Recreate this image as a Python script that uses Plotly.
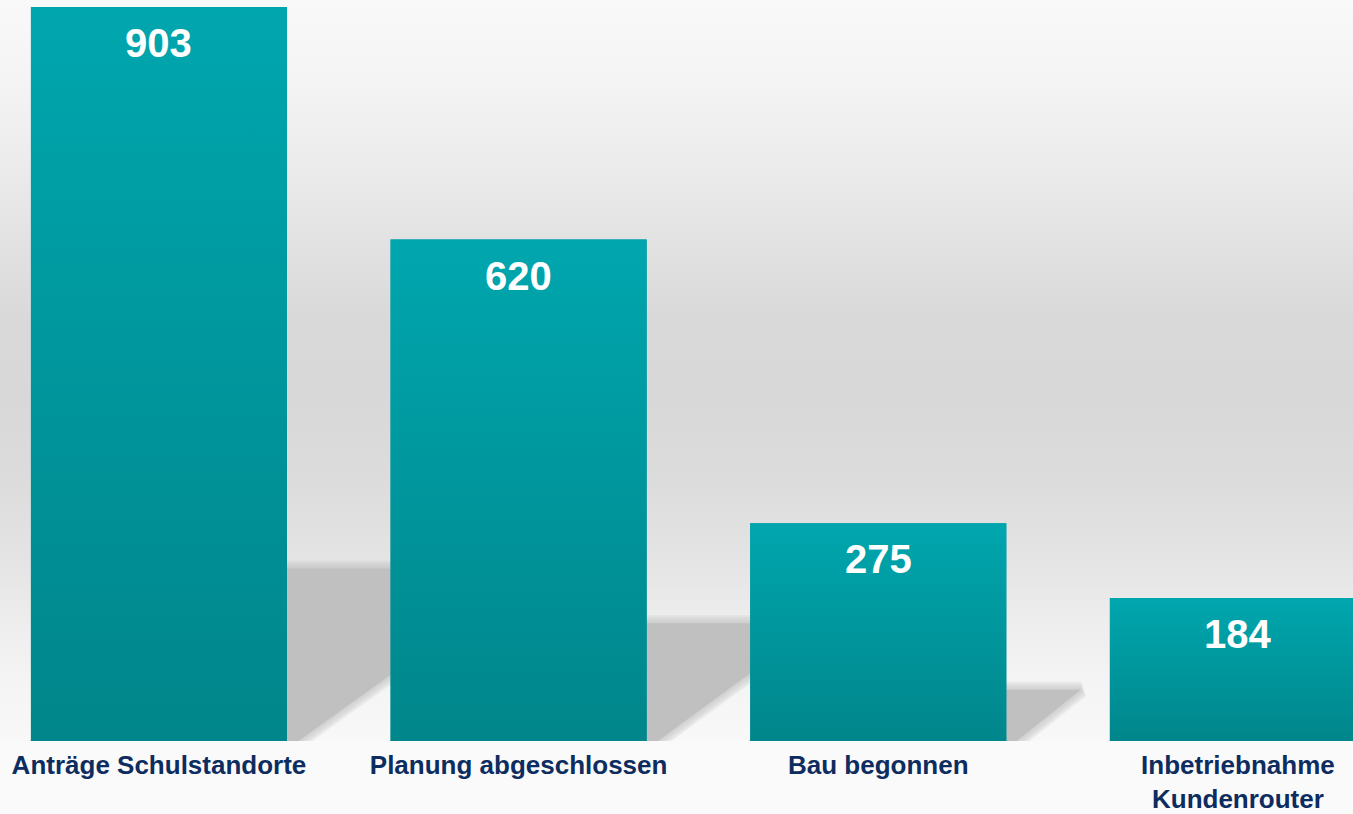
import plotly.graph_objects as go

# ---- data ----
categories = ["Anträge Schulstandorte", "Planung abgeschlossen", "Bau begonnen", "Inbetriebnahme Kundenrouter"]
tick_labels = ["Anträge Schulstandorte", "Planung abgeschlossen", "Bau begonnen", "Inbetriebnahme<br>Kundenrouter"]
values = [903, 620, 275, 184]

# ---- style ----
FONT = "Liberation Sans, Arial, sans-serif"
NAVY = "#0D2C5F"
BAR_W = 0.712
X_RANGE = [-0.442, 3.32]
Y_RANGE = [10, 911.5]
SHADOW_DEPTH = 0.235      # shadow height as share of visible bar height
SHADOW_SHEAR = 0.000784   # horizontal shear (category units per value unit)

# background vertical gradient (pos 0 = baseline, 1 = top)
bg_stops = [(0.0, 248), (0.082, 244), (0.163, 237), (0.244, 228), (0.352, 220),
            (0.46, 216), (0.568, 217), (0.676, 226), (0.784, 236), (0.892, 244), (1.0, 249)]
bg_scale = [[p, f"rgb({g},{g},{g})"] for p, g in bg_stops]

x_pos = list(range(len(values)))
y0 = Y_RANGE[0]

fig = go.Figure()

# background
fig.add_trace(go.Scatter(
    x=[X_RANGE[0], X_RANGE[1], X_RANGE[1], X_RANGE[0], X_RANGE[0]],
    y=[y0, y0, Y_RANGE[1], Y_RANGE[1], y0],
    mode="lines", fill="toself", line=dict(width=0),
    fillgradient=dict(type="vertical", colorscale=bg_scale, start=y0, stop=Y_RANGE[1]),
    hoverinfo="skip", showlegend=False, xaxis="x", yaxis="y"))

# shadows (soft edges emulated by stacked translucent strokes)
for i, v in zip(x_pos, values):
    xl, xr = i - BAR_W / 2, i + BAR_W / 2
    h = y0 + SHADOW_DEPTH * (v - y0)
    s = SHADOW_SHEAR * (v - y0)
    xs = [xl, xr, xr + s, xl + s, xl]
    ys = [0, 0, h, h, 0]
    for lw in [16, 12, 8, 4]:
        fig.add_trace(go.Scatter(x=xs, y=ys, mode="lines",
                                 line=dict(width=lw, color="rgba(190,190,190,0.22)"),
                                 hoverinfo="skip", showlegend=False, xaxis="x", yaxis="y"))
    fig.add_trace(go.Scatter(x=xs, y=ys, mode="lines", fill="toself",
                             fillcolor="#C0C0C0", line=dict(width=0),
                             hoverinfo="skip", showlegend=False, xaxis="x", yaxis="y"))

# bars
fig.add_trace(go.Bar(x=x_pos, y=values, width=BAR_W, marker=dict(color="#0097A0", line=dict(width=0)),
                     hovertext=categories, showlegend=False, xaxis="x2", yaxis="y2"))

# gradient skin on bars
for i, v in zip(x_pos, values):
    xl, xr = i - BAR_W / 2, i + BAR_W / 2
    fig.add_trace(go.Scatter(
        x=[xl, xr, xr, xl, xl], y=[0, 0, v, v, 0], mode="lines", fill="toself",
        line=dict(width=0),
        fillgradient=dict(type="vertical", colorscale=[[0, "#00868B"], [1, "#00A6AE"]], start=y0, stop=v),
        hoverinfo="skip", showlegend=False, xaxis="x2", yaxis="y2"))

# value labels
for i, v in zip(x_pos, values):
    fig.add_annotation(x=i, y=v, xref="x2", yref="y2", text=f"<b>{v}</b>", showarrow=False,
                       yshift=-36, font=dict(family=FONT, size=40, color="white"))

fig.update_layout(
    width=1353, height=814,
    margin=dict(l=0, r=0, t=0, b=73),
    paper_bgcolor="#FAFAFA", plot_bgcolor="#FAFAFA",
    xaxis=dict(range=X_RANGE, tickvals=x_pos, ticktext=[f"<b>{t}</b>" for t in tick_labels],
               tickfont=dict(family=FONT, size=26, color=NAVY), showgrid=False, zeroline=False,
               showline=False, ticks="", ticklabelstandoff=6, automargin=False, fixedrange=True),
    yaxis=dict(range=Y_RANGE, visible=False, automargin=False, fixedrange=True),
    xaxis2=dict(range=X_RANGE, overlaying="x", visible=False, automargin=False, fixedrange=True),
    yaxis2=dict(range=Y_RANGE, overlaying="y", visible=False, automargin=False, fixedrange=True),
    showlegend=False,
)

fig.write_html("out.html", config={"displayModeBar": False},
               post_script="document.body.style.margin='0';document.body.style.overflow='hidden';")
